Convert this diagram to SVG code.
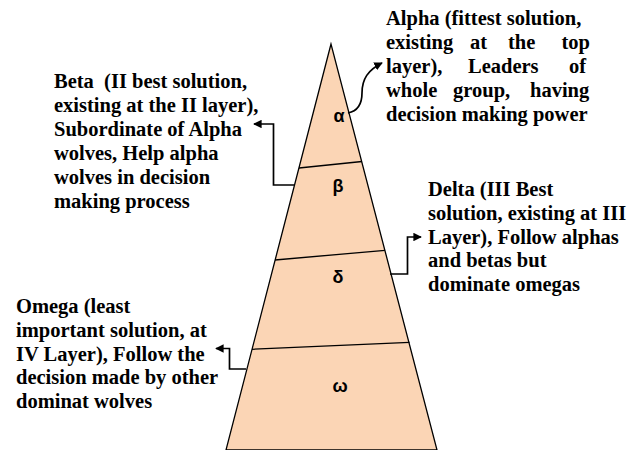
<svg xmlns="http://www.w3.org/2000/svg" width="639" height="450" viewBox="0 0 639 450">
<defs>
<style>
.lbl{font-family:"Liberation Serif","Times New Roman",serif;font-weight:bold;font-size:20.5px;fill:#000}
.gk{font-family:"Liberation Sans",Arial,sans-serif;font-weight:bold;font-size:18px;fill:#000;text-anchor:middle}
.ln{stroke:#000;stroke-width:1.3;fill:none}
.cn{stroke:#000;stroke-width:1.7;fill:none;marker-end:url(#ah)}
</style>
<marker id="ah" viewBox="0 0 10 10" refX="9" refY="5" markerWidth="5" markerHeight="5" markerUnits="strokeWidth" orient="auto">
<path d="M0,0 L10,5 L0,10 z" fill="#000"/>
</marker>
</defs>
<rect width="639" height="450" fill="#fff"/>
<g id="pyramid">
<polygon points="331,44 226,450 437,450" fill="#FBD5B5" stroke="#000" stroke-width="1.3"/>
<line class="ln" x1="299" y1="168" x2="362" y2="161.5"/>
<line class="ln" x1="275" y1="260" x2="385" y2="250.3"/>
<line class="ln" x1="252" y1="349.3" x2="409.5" y2="342.3"/>
</g>
<g id="alpha-layer"><text class="gk" x="339" y="122">α</text></g>
<g id="beta-layer"><text class="gk" x="338" y="192">β</text></g>
<g id="delta-layer"><text class="gk" x="338" y="283">δ</text></g>
<g id="omega-layer"><text class="gk" x="340" y="392">ω</text></g>
<g id="connectors">
<path class="cn" d="M348,113 C358,111 362,104 362,93 C362,79 368,70 382,63"/>
<path class="cn" d="M294,185 H273.5 V124 H254"/>
<path class="cn" d="M390,274 H407.5 V237 H421"/>
<path class="cn" d="M246,369 H229.5 V348.5 H216"/>
</g>
<g id="alpha-label">
<text class="lbl" x="386" y="25">Alpha (fittest solution,</text>
<text class="lbl" y="49"><tspan x="386">existing</tspan><tspan x="470">at</tspan><tspan x="508">the</tspan><tspan x="561.5">top</tspan></text>
<text class="lbl" y="73"><tspan x="386">layer),</tspan><tspan x="468">Leaders</tspan><tspan x="569">of</tspan></text>
<text class="lbl" y="97"><tspan x="386">whole</tspan><tspan x="453">group,</tspan><tspan x="530">having</tspan></text>
<text class="lbl" x="386" y="121">decision making power</text>
</g>
<g id="beta-label">
<text class="lbl" x="54" y="88" xml:space="preserve">Beta  (II best solution,</text>
<text class="lbl" x="54" y="112">existing at the II layer),</text>
<text class="lbl" x="54" y="136">Subordinate of Alpha</text>
<text class="lbl" x="54" y="160">wolves, Help alpha</text>
<text class="lbl" x="54" y="184">wolves in decision</text>
<text class="lbl" x="54" y="208">making process</text>
</g>
<g id="delta-label">
<text class="lbl" x="428" y="196">Delta (III Best</text>
<text class="lbl" x="428" y="220">solution, existing at III</text>
<text class="lbl" x="428" y="244">Layer), Follow alphas</text>
<text class="lbl" x="428" y="267">and betas but</text>
<text class="lbl" x="428" y="291">dominate omegas</text>
</g>
<g id="omega-label">
<text class="lbl" x="16" y="313">Omega (least</text>
<text class="lbl" x="16" y="337">important solution, at</text>
<text class="lbl" x="16" y="361">IV Layer), Follow the</text>
<text class="lbl" x="16" y="384">decision made by other</text>
<text class="lbl" x="16" y="408">dominat wolves</text>
</g>
</svg>
